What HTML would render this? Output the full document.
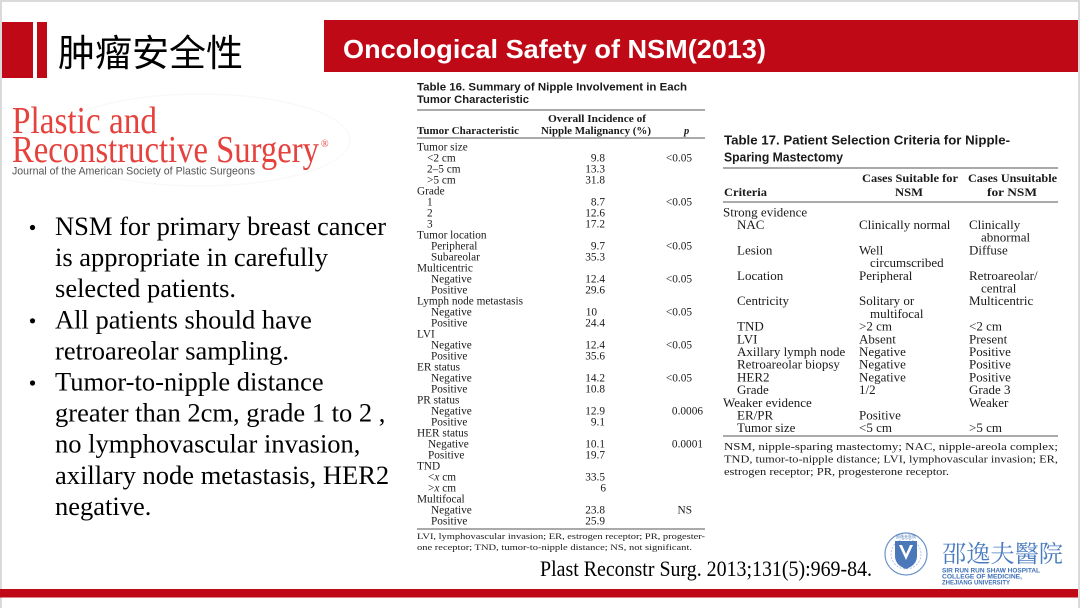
<!DOCTYPE html>
<html><head><meta charset="utf-8">
<style>
html,body{margin:0;padding:0;background:#fff;}
svg{display:block;}
.s{font-family:"Liberation Serif","Noto Serif CJK SC",serif;}
.a{font-family:"Liberation Sans",sans-serif;}
</style></head><body>
<svg width="1080" height="608" viewBox="0 0 1080 608" xmlns="http://www.w3.org/2000/svg">
<rect width="1080" height="608" fill="#fff"/>
<!-- frame -->
<rect x="0" y="0" width="1080" height="2" fill="#dadada"/>
<rect x="0" y="0" width="2" height="608" fill="#dadada"/>
<rect x="1078" y="0" width="2" height="608" fill="#dadada"/>

<!-- header -->
<rect x="2" y="22" width="31" height="56" fill="#c00916"/>
<rect x="37" y="22" width="10" height="56" fill="#c00916"/>
<text x="58" y="66" font-family="'Noto Sans CJK SC', sans-serif" font-size="37" fill="#000">肿瘤安全性</text>
<rect x="324" y="20" width="754" height="52" fill="#c00916"/>
<text x="343" y="58" class="a" font-weight="bold" font-size="26" fill="#fff" textLength="423" lengthAdjust="spacingAndGlyphs">Oncological Safety of NSM(2013)</text>

<!-- faint watermark -->
<g fill="none" stroke="#f8f8f8" stroke-width="1.2">
<ellipse cx="200" cy="140" rx="150" ry="46"/>
</g>

<!-- journal logo -->
<g class="s" fill="#e5423d">
<text x="12" y="133" font-size="38" textLength="145" lengthAdjust="spacingAndGlyphs">Plastic and</text>
<text x="12" y="162" font-size="38" textLength="307" lengthAdjust="spacingAndGlyphs">Reconstructive Surgery</text>
<text x="321" y="147" font-size="10">®</text>
</g>
<text x="12" y="174.5" class="a" font-size="11" fill="#555" textLength="243" lengthAdjust="spacingAndGlyphs">Journal of the American Society of Plastic Surgeons</text>

<!-- bullets -->
<g fill="#000">
<circle cx="32.5" cy="227.5" r="2.6"/>
<circle cx="32.5" cy="320.8" r="2.6"/>
<circle cx="32.5" cy="383" r="2.6"/>
</g>
<g class="s" font-size="26.5" fill="#000">
<text x="55" y="235">NSM for primary breast cancer</text>
<text x="55" y="266">is appropriate in carefully</text>
<text x="55" y="297">selected patients.</text>
<text x="55" y="328.3">All patients should have</text>
<text x="55" y="359.4">retroareolar sampling.</text>
<text x="55" y="390.5">Tumor-to-nipple distance</text>
<text x="55" y="421.6">greater than 2cm, grade 1 to 2 ,</text>
<text x="55" y="452.7">no lymphovascular invasion,</text>
<text x="55" y="483.8">axillary node metastasis, HER2</text>
<text x="55" y="514.9">negative.</text>
</g>

<!-- Table 16 -->
<g fill="#1a1a1a">
<text x="417" y="90.5" class="a" font-weight="bold" font-size="11" textLength="270" lengthAdjust="spacingAndGlyphs">Table 16.  Summary of Nipple Involvement in Each</text>
<text x="417" y="103" class="a" font-weight="bold" font-size="11" textLength="112" lengthAdjust="spacingAndGlyphs">Tumor Characteristic</text>
<rect x="417" y="109.5" width="288" height="1" fill="#555"/>
<g class="s" font-weight="bold" font-size="10.5">
<text x="548" y="122" textLength="98" lengthAdjust="spacingAndGlyphs">Overall Incidence of</text>
<text x="417" y="134" textLength="102" lengthAdjust="spacingAndGlyphs">Tumor Characteristic</text>
<text x="541" y="134" textLength="110" lengthAdjust="spacingAndGlyphs">Nipple Malignancy (%)</text>
<text x="684" y="134" font-style="italic">p</text>
</g>
<rect x="417" y="137.5" width="288" height="1" fill="#555"/>
<g class="s" font-size="11.3">
<text x="417" y="150.5">Tumor size</text>
<text x="427" y="161.5">&lt;2 cm</text>
<text x="427" y="172.5">2–5 cm</text>
<text x="427" y="183.5">&gt;5 cm</text>
<text x="417" y="194.5">Grade</text>
<text x="427" y="205.5">1</text>
<text x="427" y="216.5">2</text>
<text x="427" y="227.5">3</text>
<text x="417" y="238.5">Tumor location</text>
<text x="431" y="249.5">Peripheral</text>
<text x="431" y="260.5">Subareolar</text>
<text x="417" y="271.5">Multicentric</text>
<text x="431" y="282.5">Negative</text>
<text x="431" y="293.5">Positive</text>
<text x="417" y="304.5">Lymph node metastasis</text>
<text x="431" y="315.5">Negative</text>
<text x="431" y="326.5">Positive</text>
<text x="417" y="337.5">LVI</text>
<text x="431" y="348.5">Negative</text>
<text x="431" y="359.5">Positive</text>
<text x="417" y="370.5">ER status</text>
<text x="431" y="381.5">Negative</text>
<text x="431" y="392.5">Positive</text>
<text x="417" y="403.5">PR status</text>
<text x="431" y="414.5">Negative</text>
<text x="431" y="425.5">Positive</text>
<text x="417" y="436.5">HER status</text>
<text x="428" y="447.5">Negative</text>
<text x="428" y="458.5">Positive</text>
<text x="417" y="469.5">TND</text>
<text x="428" y="480.5">&lt;<tspan font-style="italic">x</tspan> cm</text>
<text x="428" y="491.5">&gt;<tspan font-style="italic">x</tspan> cm</text>
<text x="417" y="502.5">Multifocal</text>
<text x="431" y="513.5">Negative</text>
<text x="431" y="524.5">Positive</text>
</g>
<g class="s" font-size="11.3" text-anchor="end">
<text x="605" y="161.5">9.8</text>
<text x="605" y="172.5">13.3</text>
<text x="605" y="183.5">31.8</text>
<text x="605" y="205.5">8.7</text>
<text x="605" y="216.5">12.6</text>
<text x="605" y="227.5">17.2</text>
<text x="605" y="249.5">9.7</text>
<text x="605" y="260.5">35.3</text>
<text x="605" y="282.5">12.4</text>
<text x="605" y="293.5">29.6</text>
<text x="597" y="315.5">10</text>
<text x="605" y="326.5">24.4</text>
<text x="605" y="348.5">12.4</text>
<text x="605" y="359.5">35.6</text>
<text x="605" y="381.5">14.2</text>
<text x="605" y="392.5">10.8</text>
<text x="605" y="414.5">12.9</text>
<text x="605" y="425.5">9.1</text>
<text x="605" y="447.5">10.1</text>
<text x="605" y="458.5">19.7</text>
<text x="605" y="480.5">33.5</text>
<text x="606" y="491.5">6</text>
<text x="605" y="513.5">23.8</text>
<text x="605" y="524.5">25.9</text>
<text x="692" y="161.5">&lt;0.05</text>
<text x="692" y="205.5">&lt;0.05</text>
<text x="692" y="249.5">&lt;0.05</text>
<text x="692" y="282.5">&lt;0.05</text>
<text x="692" y="315.5">&lt;0.05</text>
<text x="692" y="348.5">&lt;0.05</text>
<text x="692" y="381.5">&lt;0.05</text>
<text x="703" y="414.5">0.0006</text>
<text x="703" y="447.5">0.0001</text>
<text x="692" y="513.5">NS</text>
</g>
<rect x="417" y="528.5" width="288" height="1" fill="#555"/>
<g class="s" font-size="8.8">
<text x="417" y="539" textLength="288" lengthAdjust="spacingAndGlyphs">LVI, lymphovascular invasion; ER, estrogen receptor; PR, progester-</text>
<text x="417" y="550" textLength="275" lengthAdjust="spacingAndGlyphs">one receptor; TND, tumor-to-nipple distance; NS, not significant.</text>
</g>
</g>

<!-- Table 17 -->
<g fill="#1a1a1a">
<text x="724" y="144.5" class="a" font-weight="bold" font-size="13" textLength="286" lengthAdjust="spacingAndGlyphs">Table 17.  Patient Selection Criteria for Nipple-</text>
<text x="724" y="161.5" class="a" font-weight="bold" font-size="13" textLength="119" lengthAdjust="spacingAndGlyphs">Sparing Mastectomy</text>
<rect x="723" y="167.5" width="335" height="1" fill="#555"/>
<g class="s" font-weight="bold" font-size="12">
<text x="862" y="182" textLength="96" lengthAdjust="spacingAndGlyphs">Cases Suitable for</text>
<text x="968" y="182" textLength="89" lengthAdjust="spacingAndGlyphs">Cases Unsuitable</text>
<text x="724" y="196" textLength="43" lengthAdjust="spacingAndGlyphs">Criteria</text>
<text x="895" y="196" textLength="28" lengthAdjust="spacingAndGlyphs">NSM</text>
<text x="987" y="196" textLength="50" lengthAdjust="spacingAndGlyphs">for NSM</text>
</g>
<rect x="723" y="201.5" width="335" height="1" fill="#555"/>
<g class="s" font-size="13">
<text x="723" y="216.3">Strong evidence</text>
<text x="737" y="229">NAC</text><text x="859" y="229">Clinically normal</text><text x="969" y="229">Clinically</text>
<text x="981" y="241.7">abnormal</text>
<text x="737" y="254.4">Lesion</text><text x="859" y="254.4">Well</text><text x="969" y="254.4">Diffuse</text>
<text x="870" y="267.1">circumscribed</text>
<text x="737" y="279.8">Location</text><text x="859" y="279.8">Peripheral</text><text x="969" y="279.8">Retroareolar/</text>
<text x="981" y="292.5">central</text>
<text x="737" y="305.2">Centricity</text><text x="859" y="305.2">Solitary or</text><text x="969" y="305.2">Multicentric</text>
<text x="870" y="317.9">multifocal</text>
<text x="737" y="330.6">TND</text><text x="859" y="330.6">&gt;2 cm</text><text x="969" y="330.6">&lt;2 cm</text>
<text x="737" y="343.3">LVI</text><text x="859" y="343.3">Absent</text><text x="969" y="343.3">Present</text>
<text x="737" y="356">Axillary lymph node</text><text x="859" y="356">Negative</text><text x="969" y="356">Positive</text>
<text x="737" y="368.7">Retroareolar biopsy</text><text x="859" y="368.7">Negative</text><text x="969" y="368.7">Positive</text>
<text x="737" y="381.4">HER2</text><text x="859" y="381.4">Negative</text><text x="969" y="381.4">Positive</text>
<text x="737" y="394.1">Grade</text><text x="859" y="394.1">1/2</text><text x="969" y="394.1">Grade 3</text>
<text x="723" y="406.8">Weaker evidence</text><text x="969" y="406.8">Weaker</text>
<text x="737" y="419.5">ER/PR</text><text x="859" y="419.5">Positive</text>
<text x="737" y="432.2">Tumor size</text><text x="859" y="432.2">&lt;5 cm</text><text x="969" y="432.2">&gt;5 cm</text>
</g>
<rect x="723" y="435.5" width="335" height="1" fill="#555"/>
<g class="s" font-size="10.5">
<text x="724" y="450" textLength="334" lengthAdjust="spacingAndGlyphs">NSM, nipple-sparing mastectomy; NAC, nipple-areola complex;</text>
<text x="724" y="462.5" textLength="334" lengthAdjust="spacingAndGlyphs">TND, tumor-to-nipple distance; LVI, lymphovascular invasion; ER,</text>
<text x="724" y="475" textLength="225" lengthAdjust="spacingAndGlyphs">estrogen receptor; PR, progesterone receptor.</text>
</g>
</g>

<!-- citation -->
<text x="540" y="576" class="s" font-size="22" fill="#000" textLength="332" lengthAdjust="spacingAndGlyphs">Plast Reconstr Surg. 2013;131(5):969-84.</text>

<!-- hospital emblem -->
<g>
<circle cx="906" cy="554" r="21" fill="#fff" stroke="#6b93c8" stroke-width="1.2"/>
<circle cx="906" cy="554" r="15" fill="none" stroke="#9db8dd" stroke-width="0.8" stroke-dasharray="2 1.5"/>
<path d="M895 541 L917 541 L917 556 Q917 565 906 569 Q895 565 895 556 Z" fill="#4a78b8"/>
<path d="M899 545 L906 560 L913 545 L910 545 L906 554 L902 545 Z" fill="#fff"/>
<text x="906" y="538" font-size="4" fill="#4a78b8" text-anchor="middle" font-family="'Noto Sans CJK SC', sans-serif">邵逸夫医院</text>
</g>
<text x="942" y="562" font-family="'Noto Serif CJK SC','Noto Sans CJK SC',serif" font-size="24" fill="#4a7cc0" textLength="121" lengthAdjust="spacingAndGlyphs">邵逸夫醫院</text>
<g class="a" font-weight="bold" font-size="6.2" fill="#3d6fb5">
<text x="942" y="572.5" textLength="98" lengthAdjust="spacingAndGlyphs">SIR RUN RUN SHAW HOSPITAL</text>
<text x="942" y="578.5" textLength="80" lengthAdjust="spacingAndGlyphs">COLLEGE OF MEDICINE,</text>
<text x="942" y="584.5" textLength="68" lengthAdjust="spacingAndGlyphs">ZHEJIANG UNIVERSITY</text>
</g>

<!-- bottom red bar -->
<rect x="0" y="589" width="1078" height="8.5" fill="#c00916"/>
</svg>
</body></html>
